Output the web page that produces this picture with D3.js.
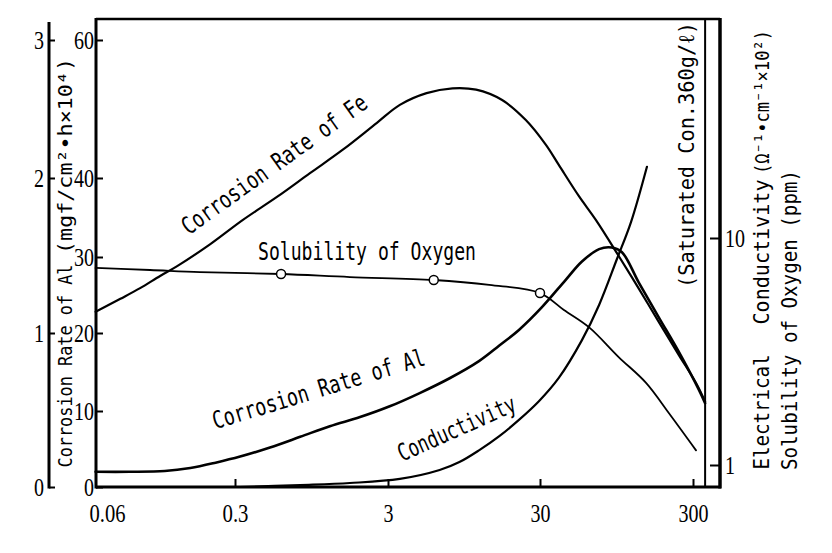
<!DOCTYPE html>
<html><head><meta charset="utf-8">
<script src="https://cdn.jsdelivr.net/npm/d3@7"></script>
<style>body{margin:0;background:#fff}svg{display:block}</style>
</head><body><svg id="c" width="832" height="553"></svg>
<script>
// ---------- data ----------
const xTickValues = [0.06, 0.3, 3, 30, 300];
const xTickLabels = ["0.06", "0.3", "3", "30", "300"];
const leftTickValues = [0, 10, 20, 30, 40, 60];
const outerTickValues = [0, 1, 2, 3];
const rightTickValues = [1, 10];
const saturation = 360;

// Corrosion rate of Fe (inner left axis)
const feX = [0.052, 0.071, 0.091, 0.117, 0.145, 0.219, 0.338, 0.564, 0.927, 1.52, 2.54, 3.59, 5.38, 7.97, 11.4, 16.9, 24.2, 32.8, 39.8, 53.9, 69.5, 98.3, 133, 180, 242, 314, 360];
const feY = [22.8, 24.5, 25.9, 27.5, 28.8, 31.6, 34.7, 37.6, 40.7, 44.1, 48.0, 50.6, 52.3, 53.0, 52.8, 51.3, 48.4, 44.8, 41.9, 37.7, 34.7, 30.1, 25.8, 21.4, 17.2, 13.6, 11.2];

// Corrosion rate of Al (outer left axis, mgf/cm2.h x10^4)
const alX = [0.052, 0.08, 0.124, 0.171, 0.235, 0.324, 0.508, 0.80, 1.25, 1.97, 3.08, 4.85, 7.63, 11.9, 16.2, 21.8, 30.9, 44.2, 56.4, 73, 88.4, 103, 133, 180, 242, 328, 360];
const alY = [0.10, 0.10, 0.105, 0.125, 0.16, 0.20, 0.26, 0.33, 0.40, 0.46, 0.53, 0.615, 0.71, 0.82, 0.92, 1.02, 1.17, 1.35, 1.47, 1.55, 1.56, 1.53, 1.33, 1.10, 0.88, 0.635, 0.55];

// Solubility of oxygen (right log axis, ppm)
const oxX = [0.052, 0.103, 0.193, 0.6, 1.69, 6, 13.9, 30, 43, 62.6, 98, 148, 209, 314];
const oxY = [7.38, 7.23, 7.08, 6.94, 6.73, 6.53, 6.21, 5.72, 4.82, 4.05, 2.99, 2.30, 1.69, 1.16];
const oxPointX = [0.6, 6, 30];
const oxPointY = [6.94, 6.53, 5.72];

// Electrical conductivity (right log axis)
const condX = [0.324, 0.80, 1.69, 3.59, 6.56, 8.85, 11.9, 16.2, 21.8, 29.5, 39.8, 56.4, 73, 95.5, 118, 150];
const condY = [0.80, 0.816, 0.833, 0.868, 0.95, 1.03, 1.16, 1.34, 1.58, 1.91, 2.42, 3.55, 5.07, 8.08, 11.75, 20.6];

// ---------- layout ----------
const L = 96, R = 720, T = 19, B = 487, OUTER = 49;
const svg = d3.select("#c");

const x = d3.scaleLog().domain([0.06, 0.3, 3, 30, 300]).range([107, 235, 388, 540, 693]);
const yLeft = d3.scaleLinear().domain([0, 10, 20, 30, 40, 60]).range([487, 411, 333, 257, 178, 40]);
const yOuter = d3.scaleLinear().domain([0, 0.5, 1, 1.5, 2, 3]).range([487, 411, 333, 257, 178, 40]);
const yRight = d3.scaleLog().domain([1, 10]).range([465, 238]);

const numFont = "'Liberation Serif', serif";
const txtFont = "'DejaVu Sans Mono', monospace";
function numLen(s) { let w = 0; for (const ch of s) w += (ch === "." ? 6 : 10); return w; }
function styleTicks(g) {
  g.select(".domain").remove();
  g.selectAll(".tick line").attr("stroke", "#000").attr("stroke-width", 2);
  g.selectAll(".tick text")
    .attr("font-family", numFont).attr("font-size", 26).attr("fill", "#000")
    .attr("lengthAdjust", "spacingAndGlyphs")
    .attr("textLength", function () { return numLen(this.textContent); });
}

// ---------- frame ----------
const frame = svg.append("g").attr("stroke", "#000").attr("fill", "none");
frame.append("line").attr("x1", L).attr("x2", R).attr("y1", T).attr("y2", T).attr("stroke-width", 2.5);
frame.append("line").attr("x1", L).attr("x2", R + 1).attr("y1", B).attr("y2", B).attr("stroke-width", 3);
frame.append("line").attr("x1", L).attr("x2", L).attr("y1", T - 1).attr("y2", B + 1.5).attr("stroke-width", 3);
frame.append("line").attr("x1", R).attr("x2", R).attr("y1", T - 1).attr("y2", B + 1.5).attr("stroke-width", 3.5);
frame.append("line").attr("x1", x(saturation)).attr("x2", x(saturation)).attr("y1", T).attr("y2", B).attr("stroke-width", 2);
frame.append("line").attr("x1", OUTER).attr("x2", OUTER).attr("y1", 22).attr("y2", B + 1.5).attr("stroke-width", 3);

// ---------- axes ----------
svg.append("g").attr("transform", `translate(${OUTER},0)`)
  .call(d3.axisLeft(yOuter).tickValues(outerTickValues).tickSize(-6).tickPadding(5).tickFormat(d3.format("d")))
  .call(styleTicks);

svg.append("g").attr("transform", `translate(${L},0)`)
  .call(d3.axisLeft(yLeft).tickValues(leftTickValues).tickSize(-7).tickPadding(2).tickFormat(d3.format("d")))
  .call(styleTicks);

const xg = svg.append("g").attr("transform", `translate(0,${B})`)
  .call(d3.axisBottom(x).tickValues(xTickValues).tickSize(-8).tickPadding(17).tickFormat((d, i) => xTickLabels[i]))
  .call(styleTicks);
xg.selectAll(".tick line").filter(d => d === 0.06).remove();

svg.append("g").attr("transform", `translate(${R},0)`)
  .call(d3.axisRight(yRight).tickValues(rightTickValues).tickSize(-10).tickPadding(5).tickFormat(d3.format("d")))
  .call(styleTicks);

// ---------- curves ----------
const curve = d3.curveCatmullRom.alpha(0.5);
const zip = (a, b) => a.map((v, i) => [v, b[i]]);
function drawLine(xs, ys, yScale, w) {
  svg.append("path").datum(zip(xs, ys))
    .attr("fill", "none").attr("stroke", "#000").attr("stroke-width", w)
    .attr("stroke-linejoin", "round").attr("stroke-linecap", "round")
    .attr("d", d3.line().x(d => x(d[0])).y(d => yScale(d[1])).curve(curve));
}
drawLine(feX, feY, yLeft, 2.2);
drawLine(alX, alY, yOuter, 2.6);
drawLine(oxX, oxY, yRight, 1.8);
drawLine(condX, condY, yRight, 2.2);

svg.append("g").selectAll("circle").data(zip(oxPointX, oxPointY)).join("circle")
  .attr("cx", d => x(d[0])).attr("cy", d => yRight(d[1])).attr("r", 4.5)
  .attr("fill", "#fff").attr("stroke", "#000").attr("stroke-width", 1.5);

// ---------- texts ----------
function label(text, tx, ty, angle, size, len) {
  svg.append("text").text(text)
    .attr("transform", `translate(${tx},${ty}) rotate(${angle})`)
    .attr("text-anchor", "middle")
    .attr("font-family", txtFont).attr("font-size", size).attr("fill", "#000")
    .style("white-space", "pre")
    .attr("textLength", len).attr("lengthAdjust", "spacingAndGlyphs");
}
label("Corrosion Rate of Fe", 279, 171, -35.5, 24, 222);
label("Solubility of Oxygen", 367, 260, 0, 24, 218);
label("Corrosion Rate of Al", 321, 397, -17, 24, 221);
label("Conductivity", 460, 436, -24, 24, 127);
label("(Saturated Con.360g/ℓ)", 694, 155, -90, 22, 266);
label("Corrosion Rate of Al", 72, 366, -90, 19, 203);
label("(mgf/cm²•h×10⁴)", 72, 156, -90, 19, 196);
label("Electrical", 769, 412, -90, 22, 115);
label("Conductivity", 769, 252, -90, 22, 145);
label("(Ω⁻¹•cm⁻¹×10²)", 769, 102, -90, 20, 144);
label("Solubility of Oxygen (ppm)", 797, 320, -90, 22, 300);
</script>
</body></html>
